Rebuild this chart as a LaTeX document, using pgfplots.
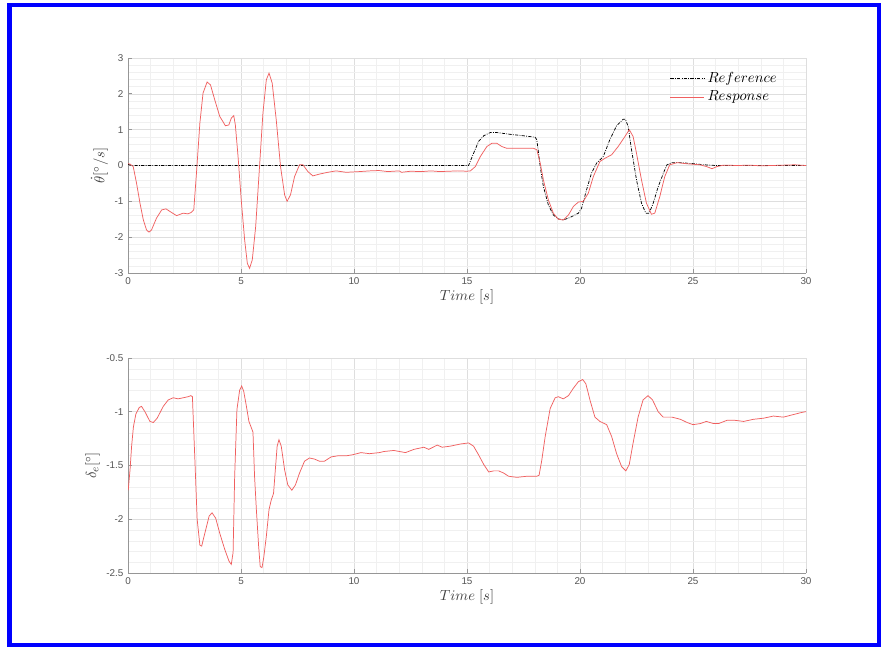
\documentclass[border=0pt]{standalone}
\usepackage{fontspec}
\setmainfont{Liberation Sans}
\usepackage{pgfplots}
\pgfplotsset{compat=1.18}

\definecolor{resp}{RGB}{240,95,95}
\definecolor{axgray}{RGB}{150,150,150}
\definecolor{ticktext}{RGB}{85,85,85}

\pgfplotsset{
  matlabaxis/.style={
    scale only axis,
    width=508.5pt, height=161.25pt,
    xmin=0, xmax=30,
    axis x line*=bottom, axis y line*=left,
    axis line style={axgray, line width=0.6pt, -},
    xtick={0,5,...,30},
    minor x tick num=4,
    minor y tick num=4,
    grid=both,
    major grid style={black!13, line width=0.4pt},
    minor grid style={black!6, line width=0.3pt},
    tick style={axgray, line width=0.6pt},
    tick align=inside,
    major tick length=3pt, minor tick length=0pt,
    tick label style={font=\fontsize{7.4}{8}\selectfont, text=ticktext},
    /pgf/number format/assume math mode=true,
    label style={font=\fontsize{11}{13}\selectfont, text=black!75},
    xlabel={$Time\ [s]$},
    xlabel style={yshift=3pt},
    every axis plot/.append style={line width=0.55pt},
  }
}

\begin{document}
\begin{tikzpicture}
\path[use as bounding box] (0pt,0pt) rectangle (662.25pt,-485.25pt);
\fill[white] (0pt,0pt) rectangle (662.25pt,-485.25pt);
\draw[blue, line width=3.4pt] (7.1pt,-3.9pt) rectangle (659.4pt,-483.6pt);

% pitch rate: reference and response
\begin{axis}[matlabaxis,
  at={(96pt,-43.5pt)}, anchor=north west,
  ymin=-3, ymax=3, ytick={-3,-2,...,3},
  ylabel={$\dot{\theta} [^\circ/s]$},
  ylabel style={yshift=-2pt},
  legend style={at={(0.967,0.96)}, anchor=north east, draw=none, fill=none,
    font=\fontsize{11}{13}\selectfont, row sep=1pt},
  legend cell align=left,
  legend image code/.code={\draw[#1] (0cm,0cm) -- (0.9cm,0cm);},
]
\addplot[black, dash pattern=on 2.4pt off 1pt on 0.6pt off 1pt] coordinates {
(0,0.03) (0.2,0) (15.07,0) (15.29,0.34) (15.51,0.67) (15.74,0.83) (16.03,0.92)
(16.32,0.92) (16.91,0.87) (17.5,0.83) (18.01,0.79) (18.09,0.72) (18.24,-0.03)
(18.38,-0.59) (18.6,-1.1) (18.82,-1.38) (19.04,-1.49) (19.26,-1.52) (19.56,-1.45)
(19.93,-1.33) (20.07,-1.19) (20.29,-0.68) (20.51,-0.21) (20.74,0.07) (21.03,0.25)
(21.32,0.72) (21.62,1.11) (21.91,1.29) (22.01,1.29) (22.13,1.09) (22.28,0.44)
(22.5,-0.4) (22.72,-1.05) (22.91,-1.33) (23.06,-1.33) (23.24,-1.05) (23.46,-0.59)
(23.75,-0.12) (23.85,0.02) (24.07,0.08) (24.44,0.08) (25.03,0.05) (25.5,0.02)
(26,0) (30,0)
};
\addlegendentry{$Reference$}
\addplot[resp] coordinates {
(0,0.05) (0.09,0.04) (0.23,-0.03) (0.38,-0.5) (0.53,-1.05) (0.68,-1.52) (0.82,-1.8)
(0.93,-1.86) (1.04,-1.8) (1.26,-1.47) (1.49,-1.24) (1.68,-1.21) (1.85,-1.28)
(2.15,-1.4) (2.44,-1.33) (2.65,-1.35) (2.8,-1.31) (2.91,-1.24) (3.03,-0.21)
(3.18,1.18) (3.32,2.02) (3.5,2.33) (3.65,2.25) (3.84,1.83) (4.06,1.37) (4.31,1.11)
(4.46,1.13) (4.57,1.32) (4.68,1.39) (4.75,1.13) (4.87,0.25) (5.01,-0.96)
(5.16,-2.07) (5.28,-2.73) (5.38,-2.87) (5.5,-2.63) (5.65,-1.7) (5.82,-0.03)
(5.97,1.46) (6.12,2.39) (6.24,2.58) (6.38,2.3) (6.56,1.27) (6.75,-0.03) (6.93,-0.82)
(7.04,-1.0) (7.19,-0.82) (7.37,-0.31) (7.59,0.02) (7.74,0.02) (7.96,-0.17)
(8.18,-0.29) (8.47,-0.24) (8.84,-0.19) (9.21,-0.15) (9.65,-0.19) (10.24,-0.17)
(10.7,-0.15) (11.1,-0.14) (11.5,-0.17) (12.0,-0.15) (12.1,-0.19) (12.5,-0.16)
(13.0,-0.17) (13.4,-0.15) (13.8,-0.17) (14.2,-0.16) (14.6,-0.15) (15.0,-0.16)
(15.15,-0.15) (15.37,-0.03) (15.59,0.25) (15.88,0.53) (16.1,0.62) (16.32,0.62)
(16.54,0.53) (16.76,0.48) (17.35,0.48) (17.94,0.48) (18.09,0.44) (18.24,0.07)
(18.38,-0.4) (18.6,-0.96) (18.82,-1.33) (19.04,-1.5) (19.26,-1.52) (19.49,-1.38)
(19.71,-1.14) (19.93,-1.02) (20.15,-1.0) (20.37,-0.77) (20.59,-0.31) (20.88,0.11)
(21.1,0.2) (21.4,0.3) (21.69,0.53) (21.99,0.81) (22.18,1.0) (22.35,0.81) (22.5,0.34)
(22.72,-0.4) (22.94,-1.05) (23.16,-1.36) (23.31,-1.33) (23.53,-0.87) (23.75,-0.31)
(23.97,0.02) (24.3,0.08) (24.7,0.05) (25.3,0.02) (25.6,-0.03) (25.84,-0.09)
(26.06,-0.03) (26.35,0.01) (27,0.0) (27.5,0.01) (28,-0.01) (28.5,0.0) (29,0.01)
(29.5,0.02) (30,0.0)
};
\addlegendentry{$Response$}
\end{axis}

% elevator deflection
\begin{axis}[matlabaxis,
  at={(96pt,-268.5pt)}, anchor=north west,
  ymin=-2.5, ymax=-0.5, ytick={-2.5,-2,-1.5,-1,-0.5},
  yticklabels={-2.5,-2,-1.5,-1,-0.5},
  ylabel={$\delta_e [^\circ]$},
  ylabel style={yshift=-2pt},
]
\addplot[resp] coordinates {
(0.01,-1.73) (0.09,-1.54) (0.16,-1.32) (0.24,-1.14) (0.35,-1.02) (0.5,-0.96)
(0.6,-0.95) (0.75,-1.0) (0.97,-1.09) (1.12,-1.1) (1.29,-1.06) (1.56,-0.95)
(1.78,-0.89) (2.0,-0.87) (2.22,-0.88) (2.44,-0.87) (2.66,-0.86) (2.78,-0.85)
(2.85,-0.86) (2.96,-1.45) (3.06,-2.0) (3.18,-2.24) (3.26,-2.25) (3.4,-2.13)
(3.59,-1.97) (3.72,-1.94) (3.88,-1.99) (4.06,-2.13) (4.28,-2.28) (4.47,-2.39)
(4.57,-2.42) (4.65,-2.31) (4.72,-1.6) (4.82,-0.98) (4.94,-0.8) (5.03,-0.76)
(5.12,-0.81) (5.24,-0.95) (5.35,-1.09) (5.46,-1.15) (5.53,-1.19) (5.6,-1.6)
(5.68,-1.91) (5.78,-2.25) (5.85,-2.44) (5.93,-2.45) (6.01,-2.35) (6.12,-2.16)
(6.24,-1.91) (6.34,-1.82) (6.44,-1.76) (6.53,-1.51) (6.6,-1.32) (6.68,-1.26)
(6.78,-1.32) (6.93,-1.54) (7.07,-1.68) (7.25,-1.73) (7.41,-1.68) (7.59,-1.57)
(7.81,-1.46) (8.03,-1.43) (8.25,-1.44) (8.47,-1.46) (8.69,-1.46) (8.99,-1.42)
(9.28,-1.41) (9.65,-1.41) (9.94,-1.4) (10.31,-1.38) (10.68,-1.39) (11.12,-1.38)
(11.32,-1.37) (11.76,-1.36) (12.28,-1.38) (12.65,-1.35) (13.09,-1.33) (13.31,-1.35)
(13.68,-1.31) (13.9,-1.33) (14.26,-1.32) (14.71,-1.3) (15.07,-1.29) (15.29,-1.32)
(15.51,-1.4) (15.74,-1.49) (15.96,-1.56) (16.18,-1.55) (16.4,-1.55) (16.62,-1.57)
(16.84,-1.6) (17.21,-1.61) (17.65,-1.6) (18.09,-1.6) (18.19,-1.59) (18.31,-1.45)
(18.46,-1.23) (18.68,-0.97) (18.9,-0.87) (19.04,-0.86) (19.26,-0.88) (19.49,-0.85)
(19.71,-0.78) (19.93,-0.72) (20.12,-0.7) (20.26,-0.74) (20.44,-0.89) (20.66,-1.05)
(20.88,-1.09) (21.18,-1.12) (21.4,-1.23) (21.62,-1.39) (21.84,-1.51) (22.03,-1.55)
(22.18,-1.49) (22.35,-1.29) (22.57,-1.05) (22.79,-0.89) (23.01,-0.85) (23.21,-0.89)
(23.46,-1.0) (23.68,-1.05) (23.97,-1.05) (24.07,-1.05) (24.44,-1.07) (24.74,-1.1)
(25.0,-1.12) (25.32,-1.11) (25.59,-1.09) (25.91,-1.11) (26.13,-1.11) (26.5,-1.08)
(26.87,-1.08) (27.24,-1.09) (27.68,-1.07) (28.12,-1.06) (28.56,-1.04) (29.0,-1.05)
(29.37,-1.03) (29.74,-1.01) (29.96,-1.0) (30,-1.0)
};
\end{axis}
\end{tikzpicture}
\end{document}
